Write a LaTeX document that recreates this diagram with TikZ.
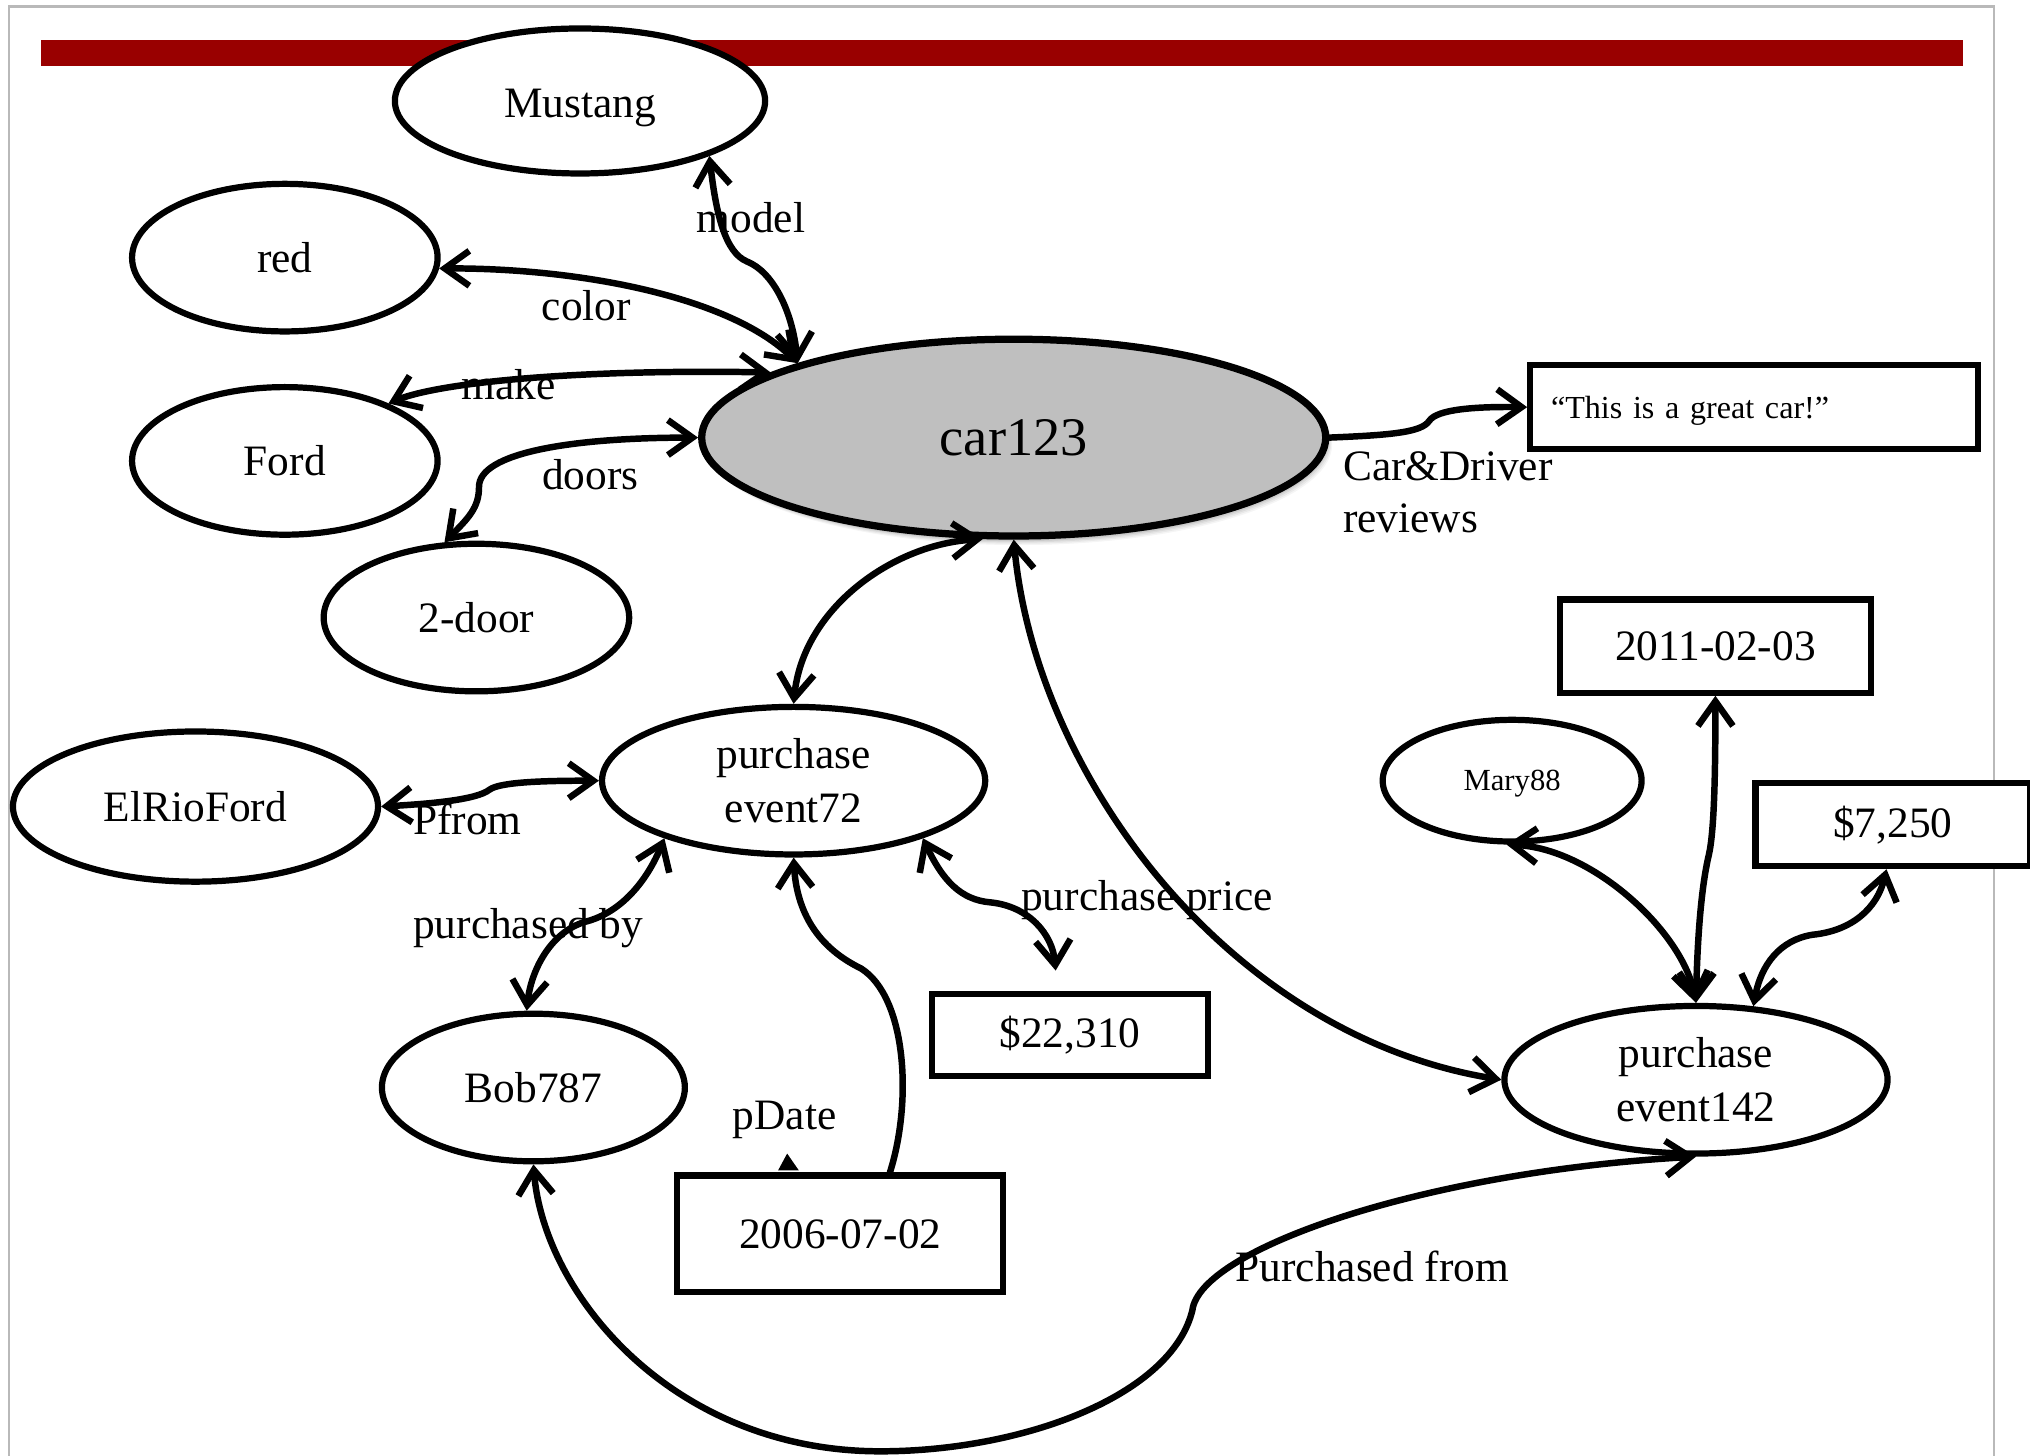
\documentclass[tikz,border=0pt]{standalone}
\usepackage{fontspec}
\setmainfont{Liberation Serif}
\usetikzlibrary{arrows.meta,shapes.geometric}
\definecolor{barred}{RGB}{153,0,0}
\definecolor{framegray}{RGB}{185,185,185}
\definecolor{carfill}{RGB}{191,191,191}
\begin{document}
\begin{tikzpicture}[x=0.5pt,y=-0.5pt,
  >={Straight Barb[length=9.5pt,width=13.5pt]},
  ell/.style={ellipse, draw, line width=2.4pt, fill=white, inner sep=0pt, font=\fontsize{16.75}{21}\selectfont, align=center},
  box/.style={rectangle, draw, line width=2.4pt, fill=white, inner sep=0pt, font=\fontsize{16.75}{21}\selectfont},
  conn/.style={line width=2.5pt, line cap=round},
  lbl/.style={inner sep=0pt, font=\fontsize{16.75}{20}\selectfont},
]
\useasboundingbox (0,0) rectangle (1568,1124);
% frame and title bar
\draw[framegray, line width=0.8pt] (7,1130) -- (7,5) -- (1540,5) -- (1540,1130);
\fill[barred] (32,31) rectangle (1516,51);
% soft shadow of car123
\foreach \i/\o in {1/0.10,2/0.08,3/0.06,4/0.05,5/0.04}
  \fill[black,opacity=\o] (783+\i*0.8,338+\i) ellipse [x radius=242, y radius=78];
% nodes
\node[ell, minimum width=143pt, minimum height=56pt, text height=13pt, text depth=0pt] (must) at (448,78) {Mustang};
\node[ell, minimum width=118pt, minimum height=57pt] (red) at (220,199) {red};
\node[ell, minimum width=118pt, minimum height=57pt] (ford) at (220,356) {Ford};
\node[ell, minimum width=118pt, minimum height=57pt] (door) at (368,477) {2-door};
\node[ell, fill=carfill, line width=2.8pt, minimum width=241pt, minimum height=76pt, font=\fontsize{21}{25}\selectfont] (car) at (783,338) {car123};
\node[ell, minimum width=141pt, minimum height=58pt] (elrio) at (151,623) {ElRioFord};
\node[ell, minimum width=148pt, minimum height=57pt] (ev72) at (613,603) {purchase\\event72};
\node[ell, minimum width=117pt, minimum height=57pt] (bob) at (412,840) {Bob787};
\node[ell, minimum width=100pt, minimum height=47pt, text depth=0pt, font=\fontsize{11.85}{14}\selectfont] (mary) at (1168,603) {Mary88};
\node[ell, minimum width=148pt, minimum height=57pt] (ev142) at (1310,834) {purchase\\event142};
\node[box, minimum width=173pt, minimum height=32.5pt, text width=157pt, inner xsep=8pt, align=left, text depth=0pt, font=\fontsize{12.4}{15}\selectfont] (quote) at (1355,314.5) {“This is a great car!”};
\node[box, minimum width=120pt, minimum height=36pt] (d2011) at (1325,499) {2011-02-03};
\node[box, minimum width=106pt, minimum height=32pt] (p7250) at (1462,637) {\$7,250};
\node[box, minimum width=106.5pt, minimum height=31.5pt] (p22310) at (826.5,799.5) {\$22,310};
\node[box, minimum width=126pt, minimum height=45pt] (d2006) at (649,953) {2006-07-02};
% labels
\node[lbl] (lmodel) at (580,168) {model};
\node[lbl] (lcolor) at (453,236) {color};
\node[lbl] (lmake) at (393,297) {make};
\node[lbl] (ldoors) at (456,367) {doors};
\node[lbl, align=left, anchor=west] (lrev) at (1037,380) {Car\&Driver\\reviews};
\node[lbl] (lpfrom) at (361,633) {Pfrom};
\node[lbl] (lpby) at (408,717) {purchased by};
\node[lbl] (lpdate) at (606,865) {pDate};
\node[lbl] (lprice) at (886,695) {purchase price};
\node[lbl] (lpfrom2) at (1060,978) {Purchased from};
% connectors
\draw[conn,<->] (must.-23) .. controls (553,165) and (560,195) .. (577,202) .. controls (597,210) and (612,240) .. (car.161);
\draw[conn,<->] (red.-4) .. controls (450,207) and (565,230) .. (car.161);
\draw[conn,<->] (ford.29) .. controls (340,295) and (450,285) .. (car.165);
\draw[conn,<->] (door.113) .. controls (362,400) and (370,392) .. (370,376) .. controls (370,350) and (440,338) .. (car.west);
\draw[conn,->] (car.east) .. controls (1075,336) and (1098,334) .. (1104,325) .. controls (1110,316) and (1140,314) .. (quote.west);
\draw[conn,<->] (car.253) .. controls (690,420) and (620,470) .. (ev72.north);
\draw[conn,<->] (car.south) .. controls (800,600) and (950,800) .. (ev142.west);
\draw[conn,<->] (elrio.east) .. controls (330,621) and (368,618) .. (378,610) .. controls (386,604) and (420,603) .. (ev72.west);
\draw[conn,<->] (ev72.204) .. controls (500,680) and (480,705) .. (452,712) .. controls (425,720) and (410,750) .. (bob.95);
\draw[conn,->] (d2006.51) .. controls (705,850) and (700,770) .. (665,748) .. controls (628,730) and (615,700) .. (ev72.south);
\fill (601,904) -- (617,904) -- (608,891) -- cycle;
\draw[conn,<->,shorten >=8pt] (ev72.-24) .. controls (728,680) and (742,695) .. (765,697) .. controls (795,700) and (813,722) .. (p22310.106);
\draw[conn,<->] (bob.south) .. controls (420,1000) and (520,1121) .. (680,1121) .. controls (790,1121) and (905,1078) .. (921,1012) .. controls (927,965) and (1100,905) .. (ev142.south);
\draw[conn,<->] (mary.265) .. controls (1230,655) and (1300,720) .. (ev142.north);
\draw[conn,<->] (d2011.south) .. controls (1325,600) and (1324,642) .. (1320,660) .. controls (1314,685) and (1311,725) .. (ev142.north);
\draw[conn,<->] (p7250.-98) .. controls (1450,702) and (1430,719) .. (1400,722) .. controls (1375,726) and (1360,745) .. (ev142.52);
\end{tikzpicture}
\end{document}
